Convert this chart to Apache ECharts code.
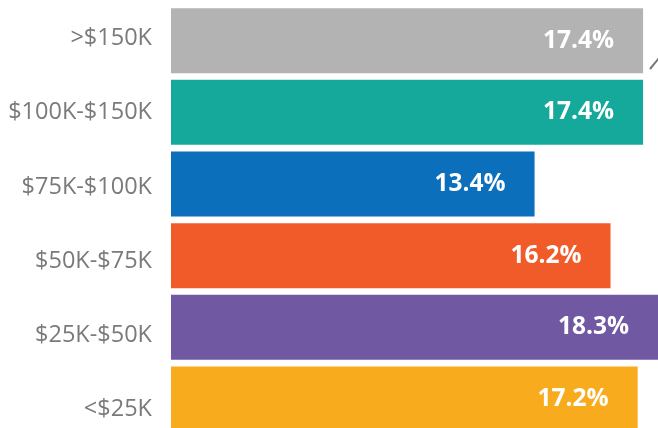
<!DOCTYPE html>
<html><head><meta charset="utf-8">
<script src="https://cdn.jsdelivr.net/npm/echarts@6/dist/echarts.min.js"></script>
<style>html,body{margin:0;padding:0;background:#fff;overflow:hidden;width:658px;height:428px}#c{width:658px;height:448px}</style>
</head><body><div id="c"></div>
<script>
const categories = ['>$150K', '$100K-$150K', '$75K-$100K', '$50K-$75K', '$25K-$50K', '<$25K'];
const values = [17.4, 17.4, 13.4, 16.2, 18.3, 17.2];
const colors = ['#b3b3b3', '#15a99c', '#0b6fbb', '#f15a29', '#7058a3', '#f8ac1d'];

const chart = echarts.init(document.getElementById('c'), null, {renderer: 'canvas'});
chart.setOption({
  animation: false,
  grid: [
    {left: 171, top: 4.8, right: 0, height: 430},
    {left: 171, top: 1.5, right: 0, height: 445}
  ],
  xAxis: [
    {gridIndex: 0, type: 'value', min: 0, max: 17.95, show: false},
    {gridIndex: 1, type: 'value', min: 0, max: 17.95, show: false}
  ],
  yAxis: [
    {gridIndex: 0, type: 'category', data: categories, inverse: true,
     axisLine: {show: false}, axisTick: {show: false}, axisLabel: {show: false}, splitLine: {show: false}},
    {gridIndex: 1, type: 'category', data: categories, inverse: true,
     axisLine: {show: false}, axisTick: {show: false}, splitLine: {show: false},
     axisLabel: {color: '#7a7a7a', fontFamily: 'Open Sans', fontSize: 23.5, margin: 19}}
  ],
  series: [{
    type: 'bar', xAxisIndex: 0, yAxisIndex: 0,
    barCategoryGap: '9.3%',
    data: values.map((v, i) => ({value: v, itemStyle: {color: colors[i]}})),
    label: {show: true, position: 'insideRight', distance: 29, color: '#fff',
      fontFamily: 'Open Sans', fontWeight: 'bold', fontSize: 24.5,
      formatter: p => p.value.toFixed(1) + '%'}
  }],
  graphic: [{type: 'line', shape: {x1: 650, y1: 69, x2: 659, y2: 58},
    style: {stroke: '#777', lineWidth: 2}}]
});
</script></body></html>
